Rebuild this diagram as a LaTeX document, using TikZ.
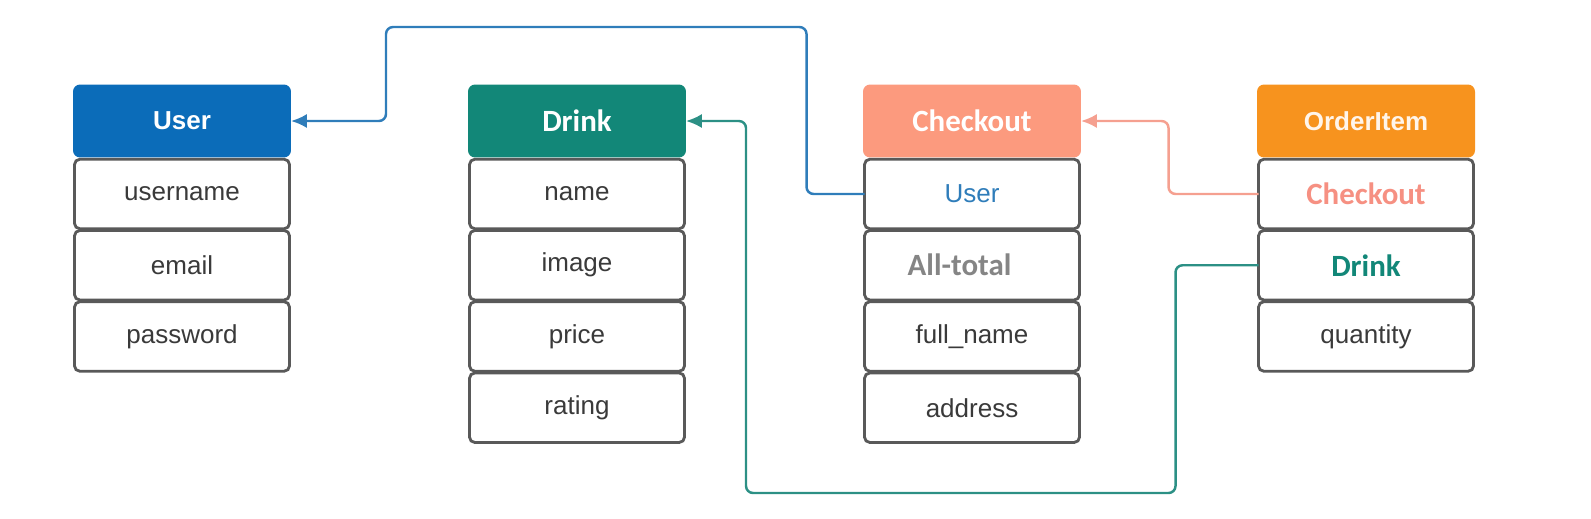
\documentclass[tikz,border=0pt]{standalone}
\usepackage{fontspec}
\setmainfont{Liberation Sans}
\newfontfamily\carlito{Carlito}
\usetikzlibrary{arrows.meta}
\usetikzlibrary{positioning}

\definecolor{userblue}{HTML}{0B6CB9}
\definecolor{drinkteal}{HTML}{128778}
\definecolor{checksalmon}{HTML}{FC9A7E}
\definecolor{orderorange}{HTML}{F7931E}
\definecolor{boxgray}{HTML}{595959}
\definecolor{fieldtext}{HTML}{3A3A3A}
\definecolor{lineblue}{HTML}{2F7DBA}
\definecolor{lineteal}{HTML}{2C9085}
\definecolor{linesalmon}{HTML}{F5A090}
\definecolor{totalgray}{HTML}{858585}

\tikzset{
  header/.style={rounded corners=4pt, minimum width=4.36cm, minimum height=1.46cm,
    inner sep=0pt, outer sep=0pt, text=white, font=\fontsize{14.8}{16}\selectfont\bfseries},
  field/.style={draw=boxgray, line width=1.6pt, rounded corners=3pt, fill=white,
    minimum width=4.30cm, minimum height=1.39cm, inner sep=0pt, outer sep=0pt,
    text=fieldtext, font=\fontsize{14.8}{16}\selectfont},
  calfont/.style={font=\fontsize{17.6}{19}\selectfont\carlito\bfseries},
  fk/.style={line width=1.4pt, rounded corners=4pt, -{Latex[length=9pt,width=8pt]}}
}

\begin{document}
\begin{tikzpicture}[x=0.02cm,y=-0.02cm]
\useasboundingbox (0,0) rectangle (1591,518);
% User
\node[header, fill=userblue] (user) at (182,121) {User};
\node[field, below=1pt of user] (user-name) {username};
\node[field, below=1pt of user-name] (user-mail) {email};
\node[field, below=1pt of user-mail] (user-pass) {password};
% Drink
\node[header, fill=drinkteal, calfont] (drink) at (577,121) {Drink};
\node[field, below=1pt of drink] (drink-name) {name};
\node[field, below=1pt of drink-name] (drink-img) {image};
\node[field, below=1pt of drink-img] (drink-price) {price};
\node[field, below=1pt of drink-price] (drink-rate) {rating};
% Checkout
\node[header, fill=checksalmon, calfont] (chk) at (972,121) {Checkout};
\node[field, below=1pt of chk, text=lineblue] (chk-user) {User};
\node[field, below=1pt of chk-user, calfont, text=totalgray] (chk-total) {\hspace*{-0.5cm}All-total};
\node[field, below=1pt of chk-total] (chk-full) {full\_name};
\node[field, below=1pt of chk-full] (chk-addr) {address};
% OrderItem
\node[header, fill=orderorange, text=orange!8] (oi) at (1366,121) {OrderItem};
\node[field, below=1pt of oi, calfont, text=linesalmon!90!red] (oi-chk) {Checkout};
\node[field, below=1pt of oi-chk, calfont, text=drinkteal] (oi-drink) {Drink};
\node[field, below=1pt of oi-drink] (oi-qty) {quantity};
% foreign keys
\draw[fk, lineblue] (chk-user.west) -- ++(-58,0) |- (386,27) |- (user.east);
\draw[fk, linesalmon] (oi-chk.west) -- ++(-90,0) |- (chk.east);
\draw[fk, lineteal] (oi-drink.west) -- ++(-83,0) |- (746,493) |- (drink.east);
\end{tikzpicture}
\end{document}
